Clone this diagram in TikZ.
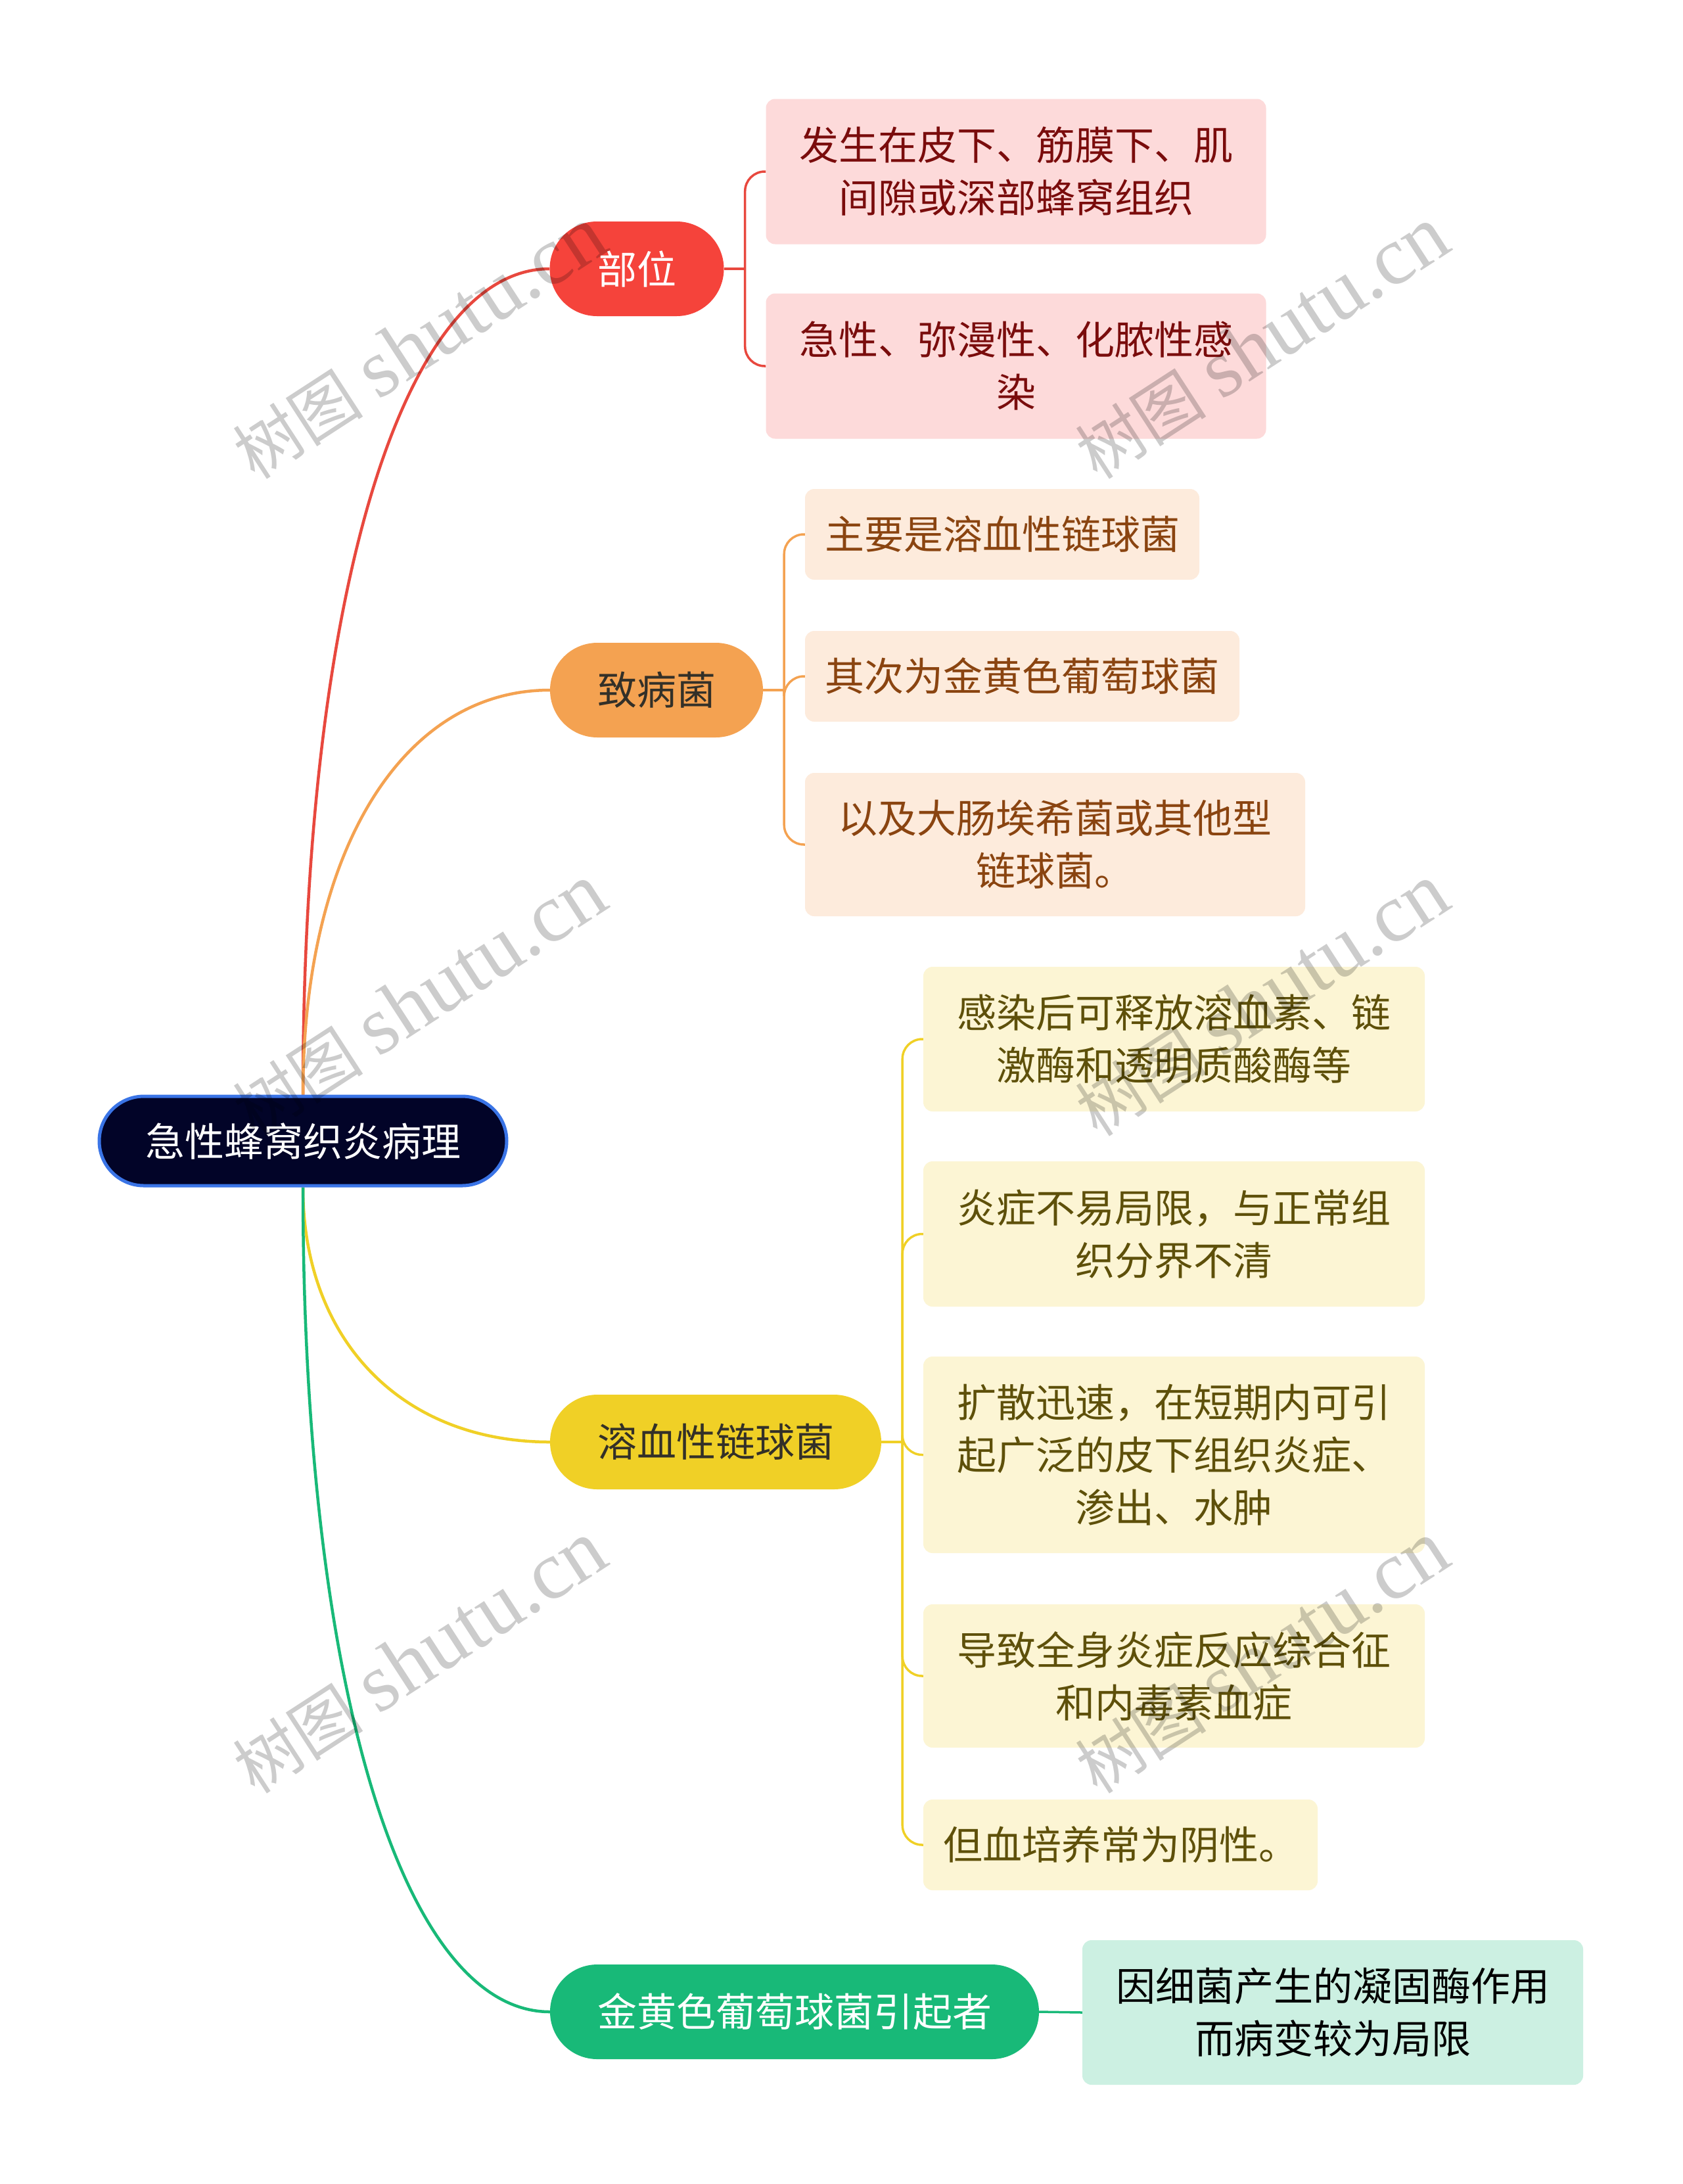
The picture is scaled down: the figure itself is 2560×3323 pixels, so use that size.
\documentclass[tikz,border=0pt]{standalone}
\usepackage{fontspec}
\newfontfamily\cjk{Noto Sans CJK SC}
\newfontfamily\wmlat{Liberation Serif}
\usetikzlibrary{calc}
\pgfdeclarelayer{back}
\pgfdeclarelayer{bg}
\pgfsetlayers{back,bg,main}
\definecolor{rootfill}{HTML}{020428}
\definecolor{rootline}{HTML}{3A74E6}
\definecolor{redA}{HTML}{F5433B}
\definecolor{redL}{HTML}{E8483E}
\definecolor{redT}{HTML}{7A0C0C}
\definecolor{redB}{HTML}{FDDADA}
\definecolor{orA}{HTML}{F4A251}
\definecolor{orT}{HTML}{8A4410}
\definecolor{orB}{HTML}{FDEBDC}
\definecolor{yeA}{HTML}{F0D026}
\definecolor{yeT}{HTML}{5E500A}
\definecolor{yeB}{HTML}{FCF5D4}
\definecolor{grA}{HTML}{18B978}
\definecolor{grB}{HTML}{CCF0E2}
\definecolor{darkT}{HTML}{333028}
\tikzset{
  txt/.style={font=\cjk\fontsize{60}{80}\selectfont, align=center, inner sep=0pt},
  rootbox/.style={txt, fill=rootfill, draw=rootline, line width=5pt, text=white,
     rounded corners=68pt, minimum width=620pt, minimum height=136pt},
  topic/.style={txt, rounded corners=72pt, minimum height=144pt},
  leaf/.style={txt, rounded corners=14pt},
  conA/.style={line width=4.5pt},
  conB/.style={line width=3.5pt, rounded corners=30pt},
  wm/.style={inner sep=0pt, text=black, text opacity=0.2, rotate=33}
}
\begin{document}
\begin{tikzpicture}[x=1pt,y=-1pt]
\begin{pgfonlayer}{back}
\fill[white] (0,0) rectangle (2560,3323);
\end{pgfonlayer}
\useasboundingbox (0,0) rectangle (2560,3323);

% root
\node[rootbox] (root) at (461,1736) {急性蜂窝织炎病理};

% level 1
\node[topic, fill=redA, text=white, minimum width=265pt] (bw) at (969,409) {部位};
\node[topic, fill=orA, text=darkT, minimum width=324pt] (zb) at (999,1050) {致病菌};
\node[topic, fill=yeA, text=darkT, minimum width=504pt] (rx) at (1089,2194) {溶血性链球菌};
\node[topic, fill=grA, text=white, minimum width=744pt] (jh) at (1209,3061) {金黄色葡萄球菌引起者};

% level 2 : 部位
\node[leaf, fill=redB, text=redT, minimum width=761pt, minimum height=221pt] (c1) at (1546,261) {发生在皮下、筋膜下、肌\\间隙或深部蜂窝组织};
\node[leaf, fill=redB, text=redT, minimum width=761pt, minimum height=221pt] (c2) at (1546,557) {急性、弥漫性、化脓性感\\染};

% level 2 : 致病菌
\node[leaf, fill=orB, text=orT, minimum width=600pt, minimum height=138pt] (d1) at (1525,813) {主要是溶血性链球菌};
\node[leaf, fill=orB, text=orT, minimum width=661pt, minimum height=138pt] (d2) at (1555.5,1029) {其次为金黄色葡萄球菌};
\node[leaf, fill=orB, text=orT, minimum width=761pt, minimum height=218pt] (d3) at (1605.5,1285) {以及大肠埃希菌或其他型\\链球菌。};

% level 2 : 溶血性链球菌
\node[leaf, fill=yeB, text=yeT, minimum width=763pt, minimum height=220pt] (e1) at (1786.5,1581) {感染后可释放溶血素、链\\激酶和透明质酸酶等};
\node[leaf, fill=yeB, text=yeT, minimum width=763pt, minimum height=221pt] (e2) at (1786.5,1877.5) {炎症不易局限，与正常组\\织分界不清};
\node[leaf, fill=yeB, text=yeT, minimum width=763pt, minimum height=299pt] (e3) at (1786.5,2213.5) {扩散迅速，在短期内可引\\起广泛的皮下组织炎症、\\渗出、水肿};
\node[leaf, fill=yeB, text=yeT, minimum width=763pt, minimum height=218pt] (e4) at (1786.5,2550) {导致全身炎症反应综合征\\和内毒素血症};
\node[leaf, fill=yeB, text=yeT, minimum width=600pt, minimum height=138pt] (e5) at (1705,2807) {但血培养常为阴性。};

% level 2 : 金黄色
\node[leaf, fill=grB, text=black, minimum width=762pt, minimum height=220pt] (f1) at (2028,3062) {因细菌产生的凝固酶作用\\而病变较为局限};

\begin{pgfonlayer}{bg}
% root to level 1
\draw[conA, redL] (root.north) .. controls ($(root.north)!0.6!(root.north |- bw.west)$) and ($(root.north |- bw.west)!0.4!(bw.west)$) .. (bw.west);
\draw[conA, orA] (root.north) .. controls ($(root.north)!0.6!(root.north |- zb.west)$) and ($(root.north |- zb.west)!0.4!(zb.west)$) .. (zb.west);
\draw[conA, yeA] (root.south) .. controls ($(root.south)!0.6!(root.south |- rx.west)$) and ($(root.south |- rx.west)!0.4!(rx.west)$) .. (rx.west);
\draw[conA, grA] (root.south) .. controls ($(root.south)!0.6!(root.south |- jh.west)$) and ($(root.south |- jh.west)!0.4!(jh.west)$) .. (jh.west);

% 部位 branches
\draw[conB, redL] (bw.east) -- ++(32,0) coordinate (bwj);
\draw[conB, redL] (bwj) |- (c1.west);
\draw[conB, redL] (bwj) |- (c2.west);
% 致病菌 branches
\draw[conB, orA] (zb.east) -- ++(32,0) coordinate (zbj);
\draw[conB, orA] (zbj) |- (d1.west);
\draw[conB, orA] (zbj) |- (d2.west);
\draw[conB, orA] (zbj) |- (d3.west);
% 溶血性链球菌 branches
\draw[conB, yeA] (rx.east) -- ++(32,0) coordinate (rxj);
\draw[conB, yeA] (rxj) |- (e1.west);
\draw[conB, yeA] (rxj) |- (e2.west);
\draw[conB, yeA] (rxj) |- (e3.west);
\draw[conB, yeA] (rxj) |- (e4.west);
\draw[conB, yeA] (rxj) |- (e5.west);
% 金黄色 branch
\draw[conB, grA] (jh.east) -- (f1.west);
\end{pgfonlayer}

% watermarks
\foreach \wx/\wy [count=\i] in {638/522, 1920/522, 638/1522, 1920/1522, 638/2522, 1920/2522}{
  \node[wm] (wm\i) at (\wx,\wy) {\cjk\fontsize{100}{100}\selectfont 树图\hspace{24pt}\wmlat\fontsize{126}{126}\selectfont shutu.cn};
}
\end{tikzpicture}
\end{document}
